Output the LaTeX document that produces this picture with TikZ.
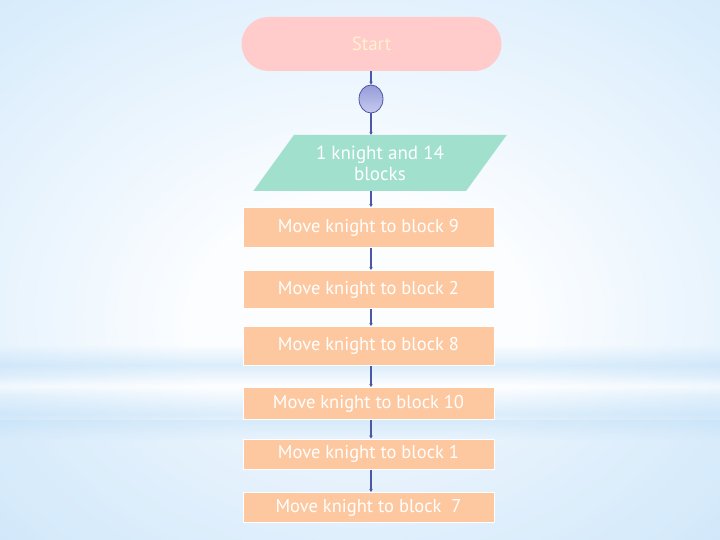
\documentclass[tikz,border=0pt]{standalone}
\usepackage{fontspec}
\setmainfont{PT Sans}
\usetikzlibrary{shapes.geometric,arrows.meta,fadings}
\definecolor{bgedge}{HTML}{A2D0F5}
\definecolor{bgsoft}{HTML}{D2E9FB}
\definecolor{bgmid}{HTML}{FBFDFF}
\definecolor{bgband}{HTML}{B6DAF7}
\definecolor{startpink}{HTML}{FFCCCB}
\definecolor{startink}{HTML}{FFF1CC}
\definecolor{mint}{HTML}{A0E0CD}
\definecolor{peach}{HTML}{FDC8A0}
\definecolor{flow}{HTML}{4A58A6}
\definecolor{lavtop}{HTML}{969CD8}
\definecolor{lavbot}{HTML}{C6CAF0}
\pgfdeclareradialshading{backdrop}{\pgfpoint{0bp}{-6bp}}{color(0bp)=(bgmid); color(12bp)=(bgmid); color(40bp)=(bgsoft); color(64bp)=(bgedge)}
\tikzfading[name=bandfade, top color=transparent!100, bottom color=transparent!100, middle color=transparent!55]
\tikzset{
  terminal/.style={fill=startpink,text=startink,minimum width=260,minimum height=54,rounded corners=27,font=\fontsize{19}{22}\selectfont},
  joint/.style={ellipse,draw=flow,line width=0.8pt,top color=lavtop,bottom color=lavbot,minimum width=24,minimum height=28,inner sep=0pt},
  inputbox/.style={trapezium,trapezium left angle=49,trapezium right angle=131,trapezium stretches=true,fill=mint,text=white,minimum width=254,minimum height=56,align=center,inner sep=0pt,font=\fontsize{19}{21}\selectfont},
  movebox/.style={rectangle,fill=peach,draw=white,line width=1pt,text=white,minimum width=251,inner sep=0pt,font=\fontsize{18.5}{20}\selectfont},
  link/.style={draw=flow,line width=1.4pt,-{Stealth[length=3pt,width=3.5pt]}}
}
\begin{document}
\begin{tikzpicture}[x=1pt,y=-1pt]
\useasboundingbox (0,0) rectangle (720,540);
\shade[shading=backdrop] (0,0) rectangle (720,540);
\fill[bgband,path fading=bandfade] (0,345) rectangle (720,385);
\fill[white,path fading=bandfade] (0,376) rectangle (720,396);
\fill[bgband,path fading=bandfade] (0,388) rectangle (720,440);
\fill[bgband,opacity=0.25] (0,420) rectangle (720,540);

\coordinate (axis) at (371,0);
\coordinate (c1) at (371.5,44);
\coordinate (c2) at (371,99);
\coordinate (c3) at (380,163);
\coordinate (m1) at (368.5,227.5);
\coordinate (m2) at (368.5,289.5);
\coordinate (m3) at (368.5,346);
\coordinate (m4) at (368.5,403.5);
\coordinate (m5) at (368.5,454);
\coordinate (m6) at (368.5,507.5);

\node[terminal] (start) at (c1) {Start};
\node[joint] (joint) at (c2) {};
\node[inputbox] (setup) at (c3) {1 knight and 14\\blocks};
\node[movebox,minimum height=40] (move9) at (m1) {Move knight to block 9};
\node[movebox,minimum height=38] (move2) at (m2) {Move knight to block 2};
\node[movebox,minimum height=39] (move8) at (m3) {Move knight to block 8};
\node[movebox,minimum height=32] (move10) at (m4) {Move knight to block 10};
\node[movebox,minimum height=30] (move1) at (m5) {Move knight to block 1};
\node[movebox,minimum height=30] (move7) at (m6) {Move knight to block\ \ 7};

\draw[link] (start.south -| axis) -- (joint.north);
\draw[link] (joint.south) -- (joint.south |- setup.north);
\draw[link] (setup.south -| axis) -- (move9.north -| axis);
\draw[link] (move9.south -| axis) -- (move2.north -| axis);
\draw[link] (move2.south -| axis) -- (move8.north -| axis);
\draw[link] (move8.south -| axis) -- (move10.north -| axis);
\draw[link] (move10.south -| axis) -- (move1.north -| axis);
\draw[link] (move1.south -| axis) -- (move7.north -| axis);

\end{tikzpicture}
\end{document}
